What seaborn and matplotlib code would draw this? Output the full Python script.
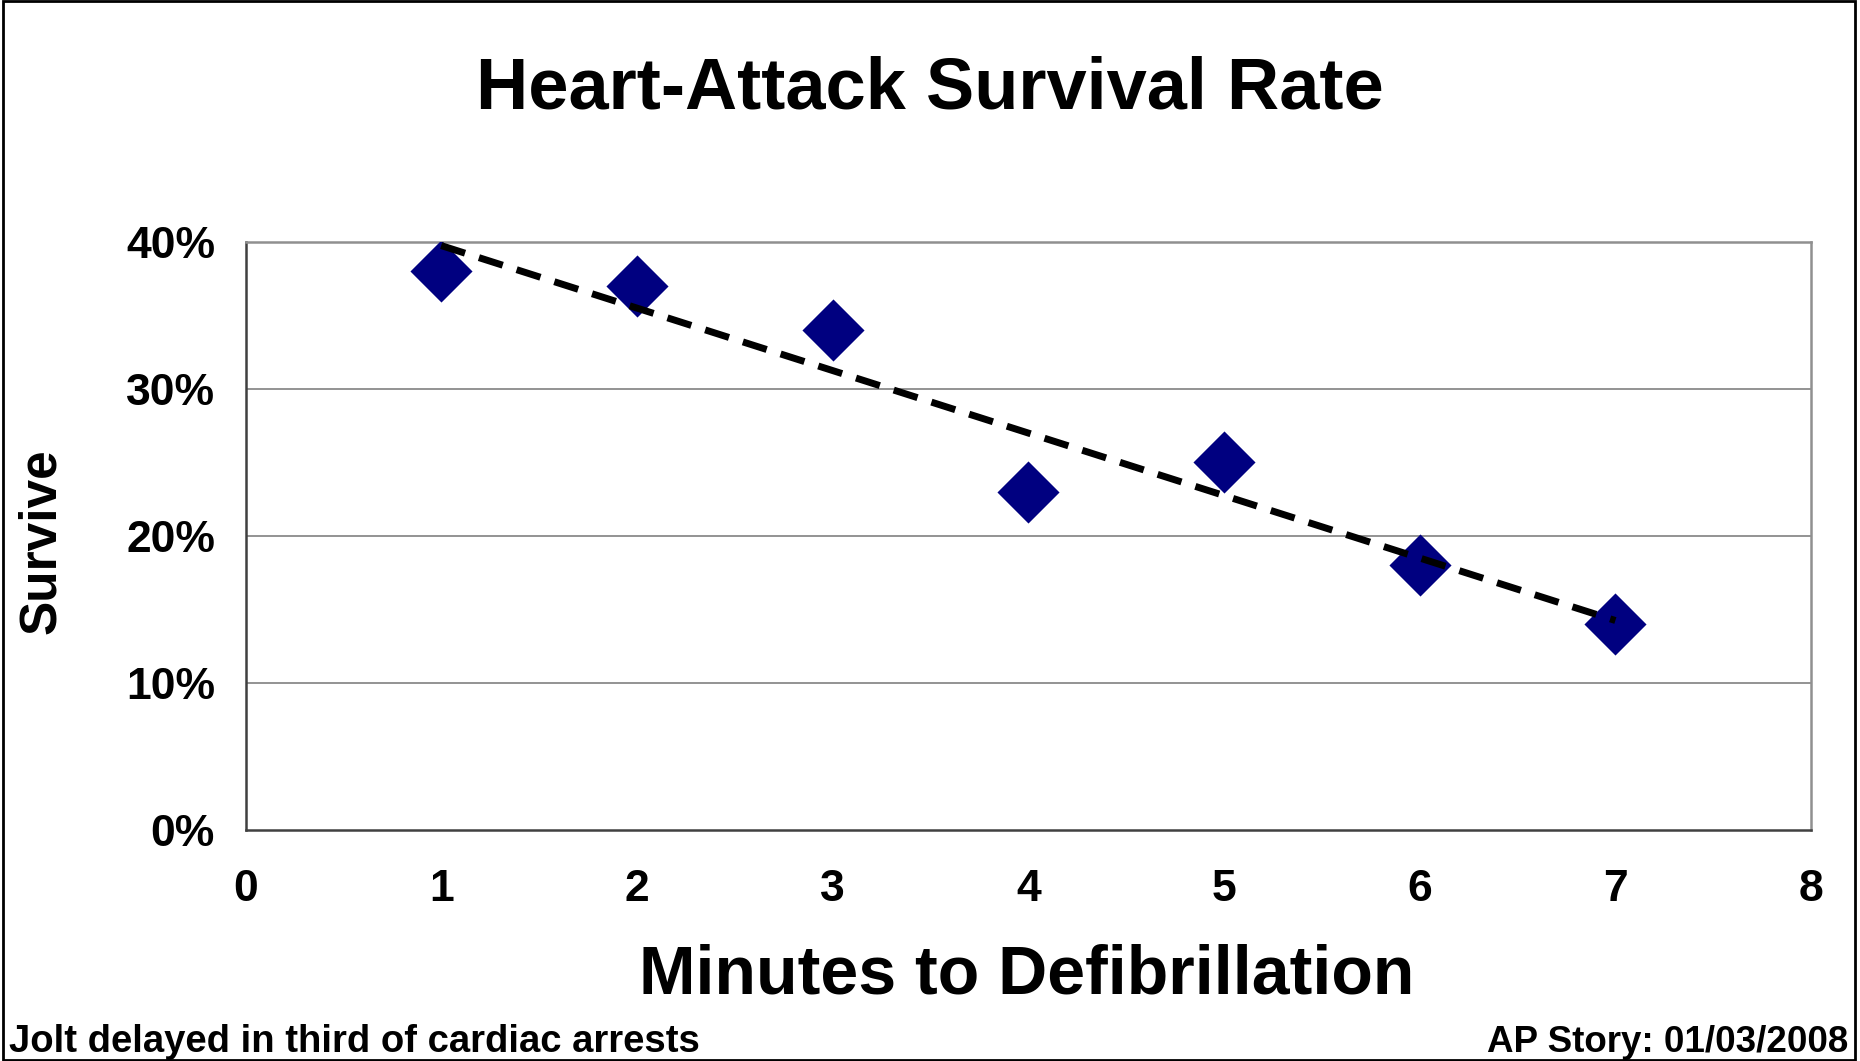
import matplotlib
matplotlib.use("Agg")
import matplotlib.pyplot as plt
import seaborn as sns
import pandas as pd
from matplotlib.ticker import PercentFormatter
from matplotlib.patches import Rectangle

minutes = [1, 2, 3, 4, 5, 6, 7]
survive = [0.38, 0.37, 0.34, 0.23, 0.25, 0.18, 0.14]
x_ticks = [0, 1, 2, 3, 4, 5, 6, 7, 8]
y_ticks = [0.0, 0.1, 0.2, 0.3, 0.4]

title = "Heart-Attack Survival Rate"
x_label = "Minutes to Defibrillation"
y_label = "Survive"
note_left = "Jolt delayed in third of cardiac arrests"
note_right = "AP Story: 01/03/2008"

df = pd.DataFrame({"minutes": minutes, "survive": survive})

sns.set_style("white")
plt.rcParams["font.family"] = ["Liberation Sans", "DejaVu Sans"]
plt.rcParams["font.weight"] = "bold"
plt.rcParams["text.color"] = "black"
plt.rcParams["axes.labelcolor"] = "black"
plt.rcParams["xtick.color"] = "black"
plt.rcParams["ytick.color"] = "black"

fig = plt.figure(figsize=(18.6, 10.61), dpi=100)
ax = fig.add_axes([0.132, 0.2177, 0.8417, 0.5543])

ax.grid(False)
for yv in y_ticks[1:]:
    ax.axhline(yv, color="#808080", lw=1.2, zorder=0)

sns.scatterplot(data=df, x="minutes", y="survive", marker="D", s=1000,
                color="#000080", edgecolor="#000080", linewidth=0, ax=ax, zorder=3)
sns.regplot(data=df, x="minutes", y="survive", scatter=False, ci=None, ax=ax,
            line_kws=dict(color="black", lw=5.0, linestyle=(0, (3.6, 2.1)), zorder=4))

ax.set_xlim(0, 8)
ax.set_ylim(0, 0.4)
ax.set_xticks(x_ticks)
ax.set_yticks(y_ticks)
ax.yaxis.set_major_formatter(PercentFormatter(1.0, decimals=0))
ax.tick_params(axis="both", labelsize=32, direction="out", length=10, width=1.2,
               color="#404040", labelcolor="black")
ax.tick_params(axis="x", pad=18)
ax.tick_params(axis="y", pad=12)
for lab in ax.get_xticklabels() + ax.get_yticklabels():
    lab.set_fontweight("bold")

for side in ["left", "bottom"]:
    ax.spines[side].set_color("#404040")
    ax.spines[side].set_linewidth(1.8)
for side in ["top", "right"]:
    ax.spines[side].set_color("#909090")
    ax.spines[side].set_linewidth(1.8)
    ax.spines[side].set_visible(True)

ax.set_xlabel(x_label, fontsize=49, fontweight="bold", va="center", color="black")
ax.xaxis.set_label_coords(0.499, -0.247)
ax.set_ylabel(y_label, fontsize=37, fontweight="bold", va="center", color="black")
ax.yaxis.set_label_coords(-0.130, 0.491)

fig.text(0.5, 0.916, title, ha="center", va="center", fontsize=52, fontweight="bold", color="black")
fig.text(0.005, 0.0175, note_left, ha="left", va="center", fontsize=27.5, fontweight="bold", color="black")
fig.text(0.9935, 0.0175, note_right, ha="right", va="center", fontsize=26.5, fontweight="bold", color="black")

fig.patches.append(Rectangle((0.0015, 0.001), 0.996, 0.998, transform=fig.transFigure,
                             fill=False, edgecolor="black", lw=2))

fig.savefig("out.png", dpi=100, facecolor="white")
